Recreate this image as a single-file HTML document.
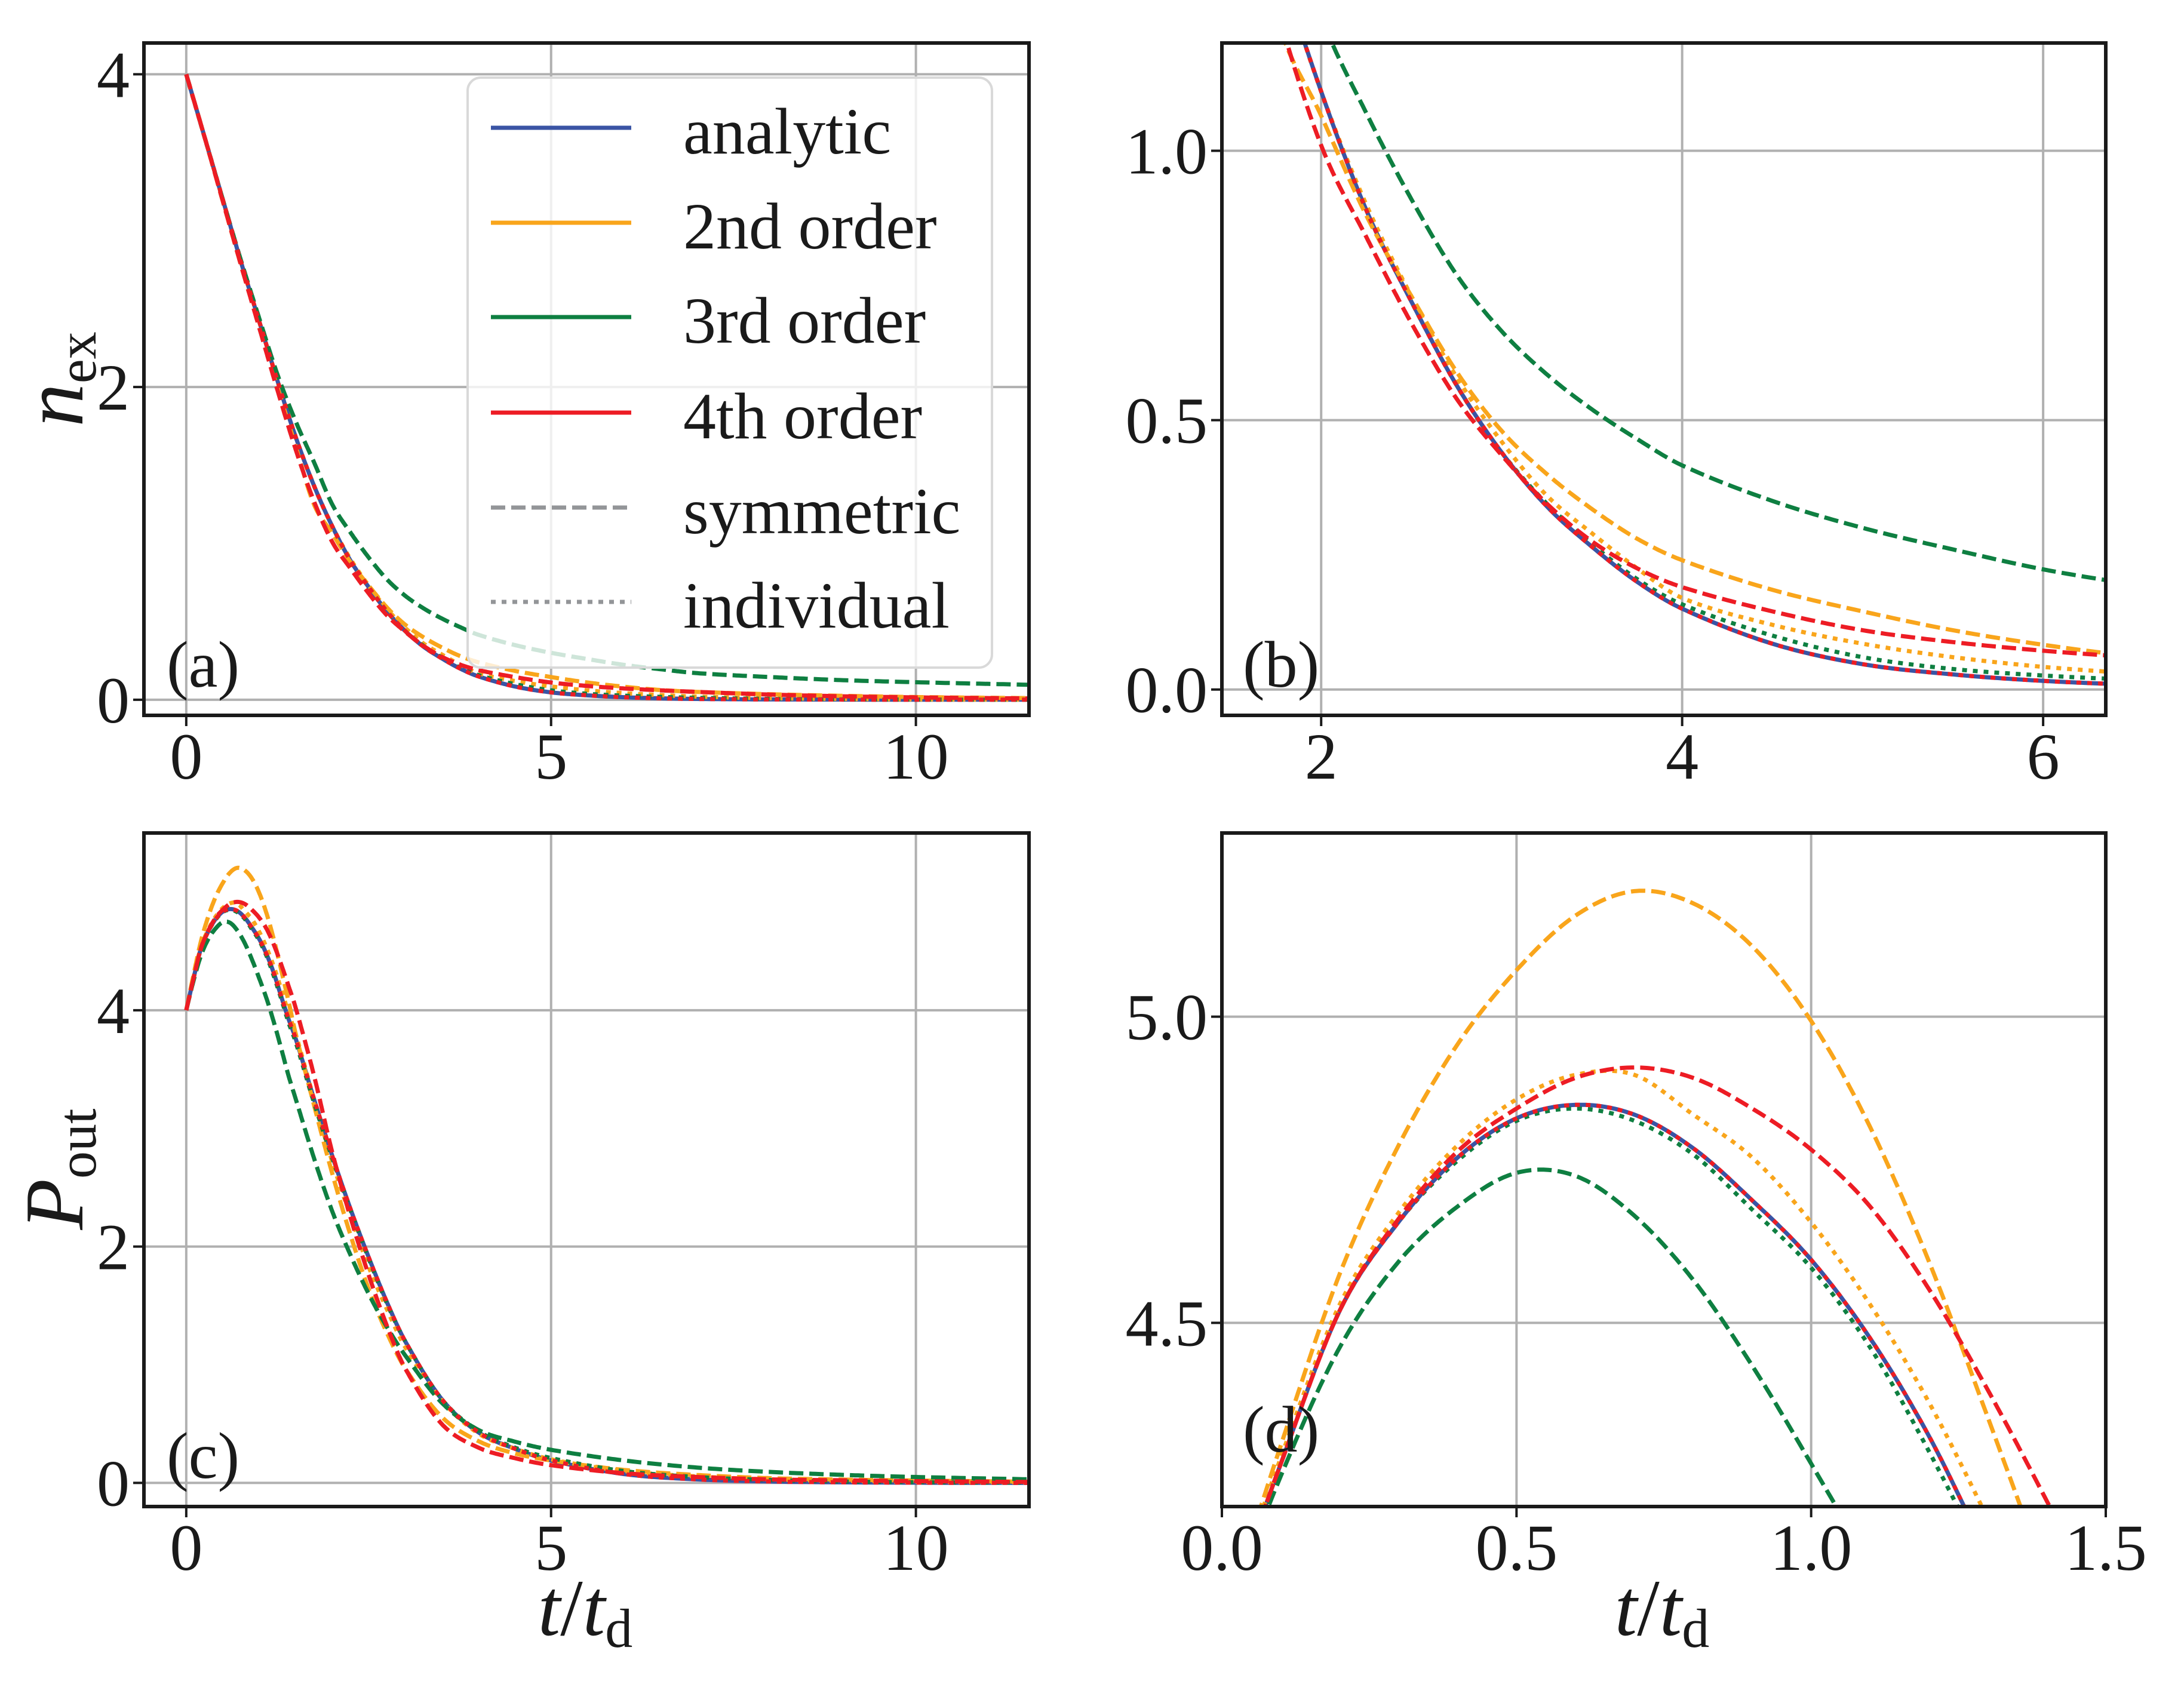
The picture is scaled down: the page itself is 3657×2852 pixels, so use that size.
<!DOCTYPE html>
<html><head><meta charset="utf-8"><style>
html,body{margin:0;padding:0;background:#fff;width:3657px;height:2852px;overflow:hidden;position:relative;}
svg{display:block;}
text{font-family:"Liberation Serif","DejaVu Serif",serif;fill:#1a1a1a;}
</style></head><body>
<svg id="fig" xmlns="http://www.w3.org/2000/svg" width="3657" height="2852" viewBox="0 0 3657 2852" style="position:absolute;left:0;top:0">
<rect x="0" y="0" width="3657" height="2852" fill="#fff"/>
<g id="layer"></g>
</svg>
<script>
// ---- data: excitation number n_ex(t) ----
const tN = [0,0.25,0.5,0.75,1,1.25,1.5,1.75,2,2.25,2.5,2.75,3,3.25,3.5,3.75,4,4.5,5,5.5,6,6.5,7,8,9,10,11.6];
const nAnalytic = [4,3.6,3.2,2.8,2.42,2.04,1.68,1.37,1.11,0.89,0.72,0.565,0.44,0.34,0.265,0.2,0.15,0.085,0.047,0.028,0.016,0.009,0.005,0.002,0.001,0,0];
const n2Sym = [4,3.6,3.19,2.78,2.39,2.0,1.62,1.25,1.065,0.88,0.73,0.59,0.48,0.4,0.335,0.28,0.24,0.185,0.145,0.11,0.083,0.062,0.05,0.035,0.025,0.017,0.01];
const n2Ind = [4,3.6,3.2,2.8,2.42,2.04,1.68,1.37,1.11,0.9,0.73,0.58,0.46,0.36,0.29,0.225,0.17,0.12,0.085,0.06,0.042,0.03,0.02,0.01,0.005,0.002,0];
const n3Sym = [4,3.6,3.2,2.81,2.44,2.08,1.78,1.52,1.25,1.07,0.91,0.77,0.665,0.585,0.52,0.465,0.416,0.35,0.3,0.26,0.223,0.195,0.17,0.145,0.125,0.112,0.095];
const n3Ind = [4,3.6,3.2,2.8,2.42,2.04,1.68,1.37,1.11,0.89,0.72,0.565,0.44,0.345,0.27,0.205,0.158,0.1,0.06,0.038,0.026,0.018,0.012,0.005,0.002,0.001,0];
const n4Sym = [4,3.6,3.19,2.78,2.38,1.98,1.6,1.27,1.01,0.84,0.68,0.54,0.435,0.345,0.275,0.225,0.19,0.145,0.11,0.088,0.072,0.06,0.05,0.033,0.022,0.015,0.008];
const n4Ind = [4,3.6,3.2,2.8,2.42,2.04,1.68,1.37,1.11,0.89,0.72,0.565,0.44,0.34,0.265,0.2,0.15,0.085,0.047,0.028,0.016,0.009,0.005,0.002,0.001,0,0];
// ---- data: output power P_out(t) ----
const tP = [0,0.1,0.2,0.3,0.4,0.5,0.6,0.7,0.8,0.9,1.0,1.1,1.2,1.3,1.4,1.5,1.75,2,2.25,2.5,2.75,3,3.5,4,4.5,5,6,7,8,9,10,11.6];
const pAnalytic = [4,4.27,4.52,4.665,4.77,4.834,4.856,4.84,4.785,4.70,4.603,4.475,4.315,4.12,3.93,3.76,3.25,2.77,2.32,1.91,1.53,1.2,0.71,0.43,0.29,0.19,0.075,0.03,0.012,0.005,0.002,0];
const p2Sym = [4,4.3,4.58,4.79,4.955,5.076,5.165,5.205,5.185,5.115,4.993,4.82,4.6,4.345,4.08,3.8,3.2,2.62,2.1,1.64,1.27,0.97,0.56,0.355,0.25,0.19,0.11,0.067,0.04,0.028,0.02,0.01];
const p2Ind = [4,4.28,4.53,4.68,4.79,4.865,4.905,4.905,4.84,4.77,4.664,4.53,4.37,4.18,3.98,3.8,3.25,2.72,2.26,1.83,1.47,1.15,0.7,0.42,0.29,0.2,0.1,0.055,0.03,0.018,0.01,0.004];
const p3Sym = [4,4.25,4.46,4.6,4.69,4.745,4.74,4.675,4.57,4.43,4.27,4.1,3.9,3.68,3.45,3.25,2.75,2.3,1.93,1.6,1.32,1.08,0.68,0.45,0.35,0.28,0.19,0.13,0.093,0.068,0.05,0.03];
const p3Ind = [4,4.27,4.52,4.665,4.765,4.83,4.85,4.83,4.775,4.685,4.59,4.46,4.29,4.1,3.9,3.73,3.22,2.75,2.31,1.9,1.52,1.2,0.71,0.44,0.3,0.21,0.1,0.05,0.025,0.012,0.006,0.002];
const p4Sym = [4,4.27,4.52,4.67,4.78,4.85,4.9,4.917,4.9,4.85,4.783,4.69,4.555,4.39,4.209,4.02,3.45,2.8,2.25,1.76,1.33,0.97,0.5,0.3,0.21,0.15,0.082,0.05,0.03,0.022,0.015,0.008];
const p4Ind = [4,4.27,4.52,4.665,4.77,4.834,4.856,4.84,4.785,4.70,4.603,4.475,4.315,4.12,3.93,3.76,3.25,2.77,2.32,1.91,1.53,1.2,0.71,0.43,0.29,0.19,0.075,0.03,0.012,0.005,0.002,0];
// ---- tick labels ----
const ticksXA = [0,5,10];
const ticksYA = [0,2,4];
const ticksXB = [2,4,6];
const ticksYB = [0,0.5,1.0];
const ticksXD = [0,0.5,1.0,1.5];
const ticksYD = [4.5,5.0];
const labelsXD = ["0.0","0.5","1.0","1.5"];
const labelsYB = ["0.0","0.5","1.0"];
const labelsYD = ["4.5","5.0"];

const NS = "http://www.w3.org/2000/svg";
const layer = document.getElementById('layer');
function mk(tag, attrs, parent){
  const e = document.createElementNS(NS, tag);
  for (const k in attrs) e.setAttribute(k, attrs[k]);
  (parent||layer).appendChild(e);
  return e;
}
const C = {blue:"#3a54a4", orange:"#f9a51b", green:"#0e7f41", red:"#ed1c24", gray:"#939598"};
const DASH = "24 10", DOT = "8 10";

const panels = [
  {id:'a', x0:241, x1:1723, y0:72, y1:1198, xl:[-0.58,11.55], yl:[-0.1,4.2], xt:ticksXA, xtl:ticksXA.map(String), yt:ticksYA, ytl:ticksYA.map(String), data:'n', lx:279, ly:1150},
  {id:'b', x0:2046, x1:3526, y0:72, y1:1198, xl:[1.45,6.347], yl:[-0.048,1.2], xt:ticksXB, xtl:ticksXB.map(String), yt:ticksYB, ytl:labelsYB, data:'n', lx:2081, ly:1150},
  {id:'c', x0:241, x1:1723, y0:1395, y1:2523, xl:[-0.58,11.55], yl:[-0.2,5.5], xt:ticksXA, xtl:ticksXA.map(String), yt:ticksYA, ytl:ticksYA.map(String), data:'p', lx:279, ly:2475},
  {id:'d', x0:2046, x1:3526, y0:1395, y1:2523, xl:[0,1.5], yl:[4.2,5.3], xt:ticksXD, xtl:labelsXD, yt:ticksYD, ytl:labelsYD, data:'p', lx:2081, ly:2431}
];

function sampleCR(ts, vs){
  const out = [];
  const n = ts.length;
  for (let i=0;i<n-1;i++){
    const p0 = vs[Math.max(i-1,0)], p1 = vs[i], p2 = vs[i+1], p3 = vs[Math.min(i+2,n-1)];
    const t0 = ts[Math.max(i-1,0)], t1 = ts[i], t2 = ts[i+1], t3 = ts[Math.min(i+2,n-1)];
    const h = t2-t1;
    const m1 = (i===0) ? (p2-p1)/h : (p2-p0)/(t2-t0);
    const m2 = (i+2>n-1) ? (p2-p1)/h : (p3-p1)/(t3-t1);
    const steps = 24;
    for (let s=0;s<steps;s++){
      const u = s/steps;
      const h00=2*u*u*u-3*u*u+1, h10=u*u*u-2*u*u+u, h01=-2*u*u*u+3*u*u, h11=u*u*u-u*u;
      out.push([t1+u*h, h00*p1+h10*h*m1+h01*p2+h11*h*m2]);
    }
  }
  out.push([ts[n-1], vs[n-1]]);
  return out;
}

panels.forEach(P=>{
  const sx = v => P.x0 + (v-P.xl[0])/(P.xl[1]-P.xl[0])*(P.x1-P.x0);
  const sy = v => P.y1 - (v-P.yl[0])/(P.yl[1]-P.yl[0])*(P.y1-P.y0);
  const g = mk('g',{});
  
  
  const cp = mk('clipPath',{id:'clip'+P.id}, g);
  mk('rect',{x:P.x0,y:P.y0,width:P.x1-P.x0,height:P.y1-P.y0}, cp);
  const grid = mk('g',{stroke:"#b0b0b0","stroke-width":4}, g);
  
  
  P.xt.forEach(v=>{ const X=sx(v); mk('line',{x1:X,x2:X,y1:P.y0,y2:P.y1}, grid); });
  P.yt.forEach(v=>{ const Y=sy(v); mk('line',{x1:P.x0,x2:P.x1,y1:Y,y2:Y}, grid); });
  const ser = mk('g',{"clip-path":"url(#clip"+P.id+")", fill:"none", "stroke-width":7}, g);
  const T = P.data==='n' ? tN : tP;
  const list = P.data==='n'
    ? [[nAnalytic,C.blue,null,'analytic'],[n2Sym,C.orange,DASH,'2nd-symmetric'],[n2Ind,C.orange,DOT,'2nd-individual'],[n3Sym,C.green,DASH,'3rd-symmetric'],[n3Ind,C.green,DOT,'3rd-individual'],[n4Sym,C.red,DASH,'4th-symmetric'],[n4Ind,C.red,DOT,'4th-individual']]
    : [[pAnalytic,C.blue,null,'analytic'],[p2Sym,C.orange,DASH,'2nd-symmetric'],[p2Ind,C.orange,DOT,'2nd-individual'],[p3Sym,C.green,DASH,'3rd-symmetric'],[p3Ind,C.green,DOT,'3rd-individual'],[p4Sym,C.red,DASH,'4th-symmetric'],[p4Ind,C.red,DOT,'4th-individual']];
  list.forEach(([vals,col,dash,name])=>{
    const pts = sampleCR(T, vals);
    const clampX = x => Math.min(Math.max(x, P.x0-30), P.x1+30);
    const clampY = y => Math.min(Math.max(y, P.y0-30), P.y1+30);
    const d = pts.map((p,i)=>(i?'L':'M')+clampX(sx(p[0])).toFixed(1)+' '+clampY(sy(p[1])).toFixed(1)).join(' ');
    const path = mk('path',{d:d, stroke:col, "stroke-linejoin":"round"}, ser);
    if (dash) path.setAttribute('stroke-dasharray', dash);
    
    
  });
  const tk = mk('g',{stroke:"#1a1a1a","stroke-width":4}, g);
  P.xt.forEach((v,i)=>{
    const X=sx(v);
    mk('line',{x1:X,x2:X,y1:P.y1,y2:P.y1+18}, tk);
    const t = mk('text',{x:X,y:P.y1+106,"text-anchor":"middle","font-size":110}, g);
    t.textContent = P.xtl[i];
    
    
  });
  P.yt.forEach((v,i)=>{
    const Y=sy(v);
    mk('line',{x1:P.x0-18,x2:P.x0,y1:Y,y2:Y}, tk);
    const t = mk('text',{x:P.x0-24,y:Y+38,"text-anchor":"end","font-size":110}, g);
    t.textContent = P.ytl[i];
    
    
  });
  const fr = mk('rect',{x:P.x0,y:P.y0,width:P.x1-P.x0,height:P.y1-P.y0,fill:"none",stroke:"#1a1a1a","stroke-width":6}, g);
  
  
  const lab = mk('text',{x:P.lx,y:P.ly,"font-size":110}, g);
  lab.textContent = '('+P.id+')';
  
  
});

// legend (in panel a)
const lg = mk('g',{});


mk('rect',{x:783,y:130,width:878,height:988,rx:22,ry:22,fill:"#fff","fill-opacity":0.8,stroke:"#d9d9d9","stroke-width":4}, lg);
const legNames = ['analytic','2nd order','3rd order','4th order','symmetric','individual'];
const legCols = [C.blue,C.orange,C.green,C.red,C.gray,C.gray];
const legDash = [null,null,null,null,DASH,DOT];
const legY = [214,373,531,691,850,1008];
legNames.forEach((nm,i)=>{
  const ln = mk('line',{x1:822,x2:1057,y1:legY[i],y2:legY[i],stroke:legCols[i],"stroke-width":7}, lg);
  if (legDash[i]) ln.setAttribute('stroke-dasharray', legDash[i]);
  
  
  const t = mk('text',{x:1144,y:legY[i]+43,"font-size":110}, lg);
  t.textContent = nm;
  
  
});
</script>
<svg style="position:absolute;left:0;top:0" width="3657" height="2852">
  <text transform="translate(138,635) rotate(-90)" text-anchor="middle" font-size="145" style="font-family:'Liberation Serif',serif"><tspan font-style="italic">n</tspan><tspan font-size="92" dy="22">ex</tspan></text>
  <text transform="translate(138,1958) rotate(-90)" text-anchor="middle" font-size="140" style="font-family:'Liberation Serif',serif"><tspan font-style="italic">P</tspan><tspan font-size="92" dy="22">out</tspan></text>
  <text x="980" y="2738" text-anchor="middle" font-size="135" style="font-family:'Liberation Serif',serif"><tspan font-style="italic">t</tspan>/<tspan font-style="italic">t</tspan><tspan font-size="92" dy="20">d</tspan></text>
  <text x="2783" y="2738" text-anchor="middle" font-size="135" style="font-family:'Liberation Serif',serif"><tspan font-style="italic">t</tspan>/<tspan font-style="italic">t</tspan><tspan font-size="92" dy="20">d</tspan></text>
</svg>
</body></html>
